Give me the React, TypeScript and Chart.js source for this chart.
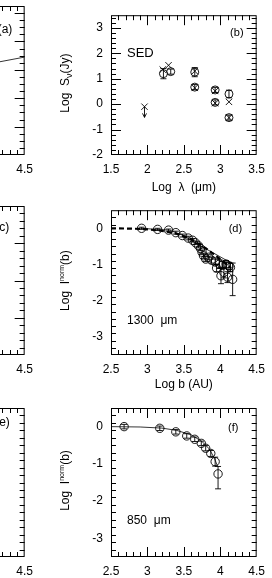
import React, { useEffect, useRef } from "react";
import { Chart, registerables } from "chart.js";
Chart.register(...registerables);

const FONT = "'Liberation Sans', Arial, Helvetica, sans-serif";

// ---------- Panel (b): SED ----------
const sedObsX = [2.22, 2.32, 2.65, 2.65, 2.93, 2.93, 3.12, 3.12];
const sedObsY = [1.2, 1.28, 1.26, 0.67, 0.56, 0.07, 0.4, -0.53];
const sedObsErr = [0.2, 0.1, 0.18, 0.1, 0.1, 0.1, 0.15, 0.1];
const sedModX = [2.21, 2.29, 2.65, 2.65, 2.93, 2.93, 3.12, 3.12];
const sedModY = [1.36, 1.53, 1.3, 0.64, 0.52, 0.04, 0.09, -0.53];
const sedLimX = [1.96];
const sedLimY = [-0.1];
const sedLimTo = [-0.52];

// ---------- Panel (d): 1300 um profile ----------
const b1300X = [2.92, 3.14, 3.29, 3.39, 3.48, 3.56, 3.62, 3.66, 3.7, 3.73, 3.75, 3.77, 3.8, 3.84, 3.88, 3.93, 3.99, 4.03, 4.08, 4.12, 4.14, 3.95, 4.01, 4.05, 4.1, 4.17];
const b1300Y = [0.0, -0.03, -0.05, -0.12, -0.2, -0.27, -0.33, -0.4, -0.48, -0.56, -0.66, -0.76, -0.85, -0.8, -0.88, -0.93, -0.99, -1.02, -0.99, -1.04, -1.08, -1.1, -1.31, -1.22, -1.35, -1.41];
const b1300Err = [0.03, 0.03, 0.03, 0.04, 0.04, 0.05, 0.05, 0.05, 0.06, 0.06, 0.06, 0.07, 0.07, 0.07, 0.08, 0.08, 0.12, 0.1, 0.1, 0.1, 0.12, 0.1, 0.22, 0.15, 0.15, 0.45];
const m1300X = [2.5, 2.8, 3.0, 3.2, 3.4, 3.6, 3.8, 4.0, 4.15];
const m1300Y = [0.0, -0.01, -0.03, -0.07, -0.15, -0.3, -0.55, -0.85, -1.1];
const t1300X = [2.9, 3.3, 3.5, 3.62, 4.17];
const t1300Y = [0.0, -0.05, -0.2, -0.36, -0.98];

// ---------- Panel (f): 850 um profile ----------
const b850X = [2.68, 3.17, 3.39, 3.54, 3.65, 3.74, 3.8, 3.87, 3.93, 3.97];
const b850Y = [0.0, -0.045, -0.14, -0.25, -0.34, -0.45, -0.58, -0.72, -0.94, -1.27];
const b850ErrLo = [0.06, 0.06, 0.06, 0.06, 0.06, 0.06, 0.07, 0.08, 0.12, 0.4];
const b850ErrHi = [0.06, 0.06, 0.06, 0.06, 0.06, 0.06, 0.07, 0.08, 0.12, 0.2];
const m850X = [2.5, 2.9, 3.2, 3.4, 3.6, 3.75, 3.85, 3.92, 3.96];
const m850Y = [0.0, -0.01, -0.04, -0.1, -0.22, -0.4, -0.6, -0.85, -1.05];

// ---------- Panel (a): partly visible model line ----------
const aLineX = [3.6, 4.5];
const aLineY = [3.0, 3.45];

// ---------- Tick values ----------
const sedXTicks = [1.5, 2, 2.5, 3, 3.5];
const sedYTicks = [-2, -1, 0, 1, 2, 3];
const bXTicks = [2.5, 3, 3.5, 4, 4.5];
const iYTicks = [-3, -2, -1, 0];
const aYTicks = [1, 2, 3, 4, 5];
const cYTicks = [-3, -2, -1, 0, 1];

type TPart = { t: string; size: number; dy: number };
type Txt = { text: string; x: number; y: number; size: number; align: CanvasTextAlign };
type PanelCfg = {
  left: number; top: number; width: number; height: number;
  pad: { left: number; right: number; top: number; bottom: number };
  yW: number; xH: number;
  x: [number, number]; y: [number, number];
  xTicks: number[]; yTicks: number[];
  xMinor: number; yMinor: number;
  xTitle?: string; yTitle?: TPart[];
  showY: boolean;
  datasets: any[];
  texts: Txt[];
};

const pts = (xs: number[], ys: number[]) => xs.map((x, i) => ({ x, y: ys[i] }));
const circleDs = (xs: number[], ys: number[], lo: number[], hi: number[], r = 4) => ({
  data: pts(xs, ys), pointStyle: "circle", pointRadius: r, pointBorderWidth: 0.9,
  borderColor: "#000", pointBorderColor: "#000", backgroundColor: "rgba(0,0,0,0)",
  pointBackgroundColor: "rgba(0,0,0,0)", errLo: lo, errHi: hi,
});
const crossDs = (xs: number[], ys: number[], r = 5, arrowTo?: number[]) => ({
  data: pts(xs, ys), pointStyle: "crossRot", pointRadius: r, pointBorderWidth: 0.9,
  borderColor: "#000", pointBorderColor: "#000", arrowTo,
});
const lineDs = (xs: number[], ys: number[], w: number, dash: number[] = []) => ({
  data: pts(xs, ys), showLine: true, pointRadius: 0, borderColor: "#000",
  borderWidth: w, borderDash: dash, fill: false,
});

function drawRotTitle(ctx: CanvasRenderingContext2D, parts: TPart[], x: number, cy: number) {
  ctx.save();
  ctx.translate(x, cy);
  ctx.rotate(-Math.PI / 2);
  let total = 0;
  const widths = parts.map((p) => {
    ctx.font = `${p.size}px ${FONT}`;
    const w = ctx.measureText(p.t).width;
    total += w;
    return w;
  });
  let cx = -total / 2;
  ctx.textBaseline = "alphabetic";
  ctx.textAlign = "left";
  ctx.fillStyle = "#000";
  parts.forEach((p, i) => {
    ctx.font = `${p.size}px ${FONT}`;
    ctx.fillText(p.t, cx, p.dy);
    cx += widths[i];
  });
  ctx.restore();
}

function Panel({ cfg }: { cfg: PanelCfg }) {
  const ref = useRef<HTMLCanvasElement>(null);
  useEffect(() => {
    const canvas = ref.current!;
    const frame = {
      id: "frame",
      afterDatasetsDraw(chart: any) {
        const { ctx, chartArea: a, scales } = chart;
        const xs = scales.x, ys = scales.y;
        ctx.save();
        ctx.beginPath();
        ctx.rect(a.left, a.top, a.right - a.left, a.bottom - a.top);
        ctx.clip();
        ctx.strokeStyle = "#000";
        ctx.lineWidth = 0.9;
        chart.data.datasets.forEach((ds: any) => {
          if (ds.errLo) {
            ds.data.forEach((p: any, i: number) => {
              const px = xs.getPixelForValue(p.x);
              const y1 = ys.getPixelForValue(p.y - ds.errLo[i]);
              const y2 = ys.getPixelForValue(p.y + ds.errHi[i]);
              ctx.beginPath();
              ctx.moveTo(px, y1); ctx.lineTo(px, y2);
              ctx.moveTo(px - 3, y1); ctx.lineTo(px + 3, y1);
              ctx.moveTo(px - 3, y2); ctx.lineTo(px + 3, y2);
              ctx.stroke();
            });
          }
          if (ds.arrowTo) {
            ds.data.forEach((p: any, i: number) => {
              const px = xs.getPixelForValue(p.x);
              const y1 = ys.getPixelForValue(p.y);
              const y2 = ys.getPixelForValue(ds.arrowTo[i]);
              ctx.beginPath();
              ctx.moveTo(px, y1); ctx.lineTo(px, y2);
              ctx.moveTo(px - 2, y2 - 4); ctx.lineTo(px, y2); ctx.lineTo(px + 2, y2 - 4);
              ctx.stroke();
            });
          }
        });
        ctx.restore();
      },
      afterDraw(chart: any) {
        const { ctx, chartArea: a, scales } = chart;
        const xs = scales.x, ys = scales.y;
        ctx.save();
        ctx.strokeStyle = "#000";
        ctx.lineWidth = 1;
        ctx.strokeRect(a.left + 0.5, a.top + 0.5, a.right - a.left - 1, a.bottom - a.top - 1);
        ctx.beginPath();
        const nx = Math.round((cfg.x[1] - cfg.x[0]) / cfg.xMinor);
        for (let i = 1; i < nx; i++) {
          const v = cfg.x[0] + i * cfg.xMinor;
          const major = cfg.xTicks.some((t) => Math.abs(t - v) < 1e-6);
          const len = major ? 10 : 5;
          const px = Math.round(xs.getPixelForValue(v)) + 0.5;
          ctx.moveTo(px, a.bottom); ctx.lineTo(px, a.bottom - len);
          ctx.moveTo(px, a.top); ctx.lineTo(px, a.top + len);
        }
        const ny = Math.round((cfg.y[1] - cfg.y[0]) / cfg.yMinor);
        for (let i = 1; i < ny; i++) {
          const v = cfg.y[0] + i * cfg.yMinor;
          const major = cfg.yTicks.some((t) => Math.abs(t - v) < 1e-6);
          const len = major ? 10 : 5;
          const py = Math.round(ys.getPixelForValue(v)) + 0.5;
          ctx.moveTo(a.left, py); ctx.lineTo(a.left + len, py);
          ctx.moveTo(a.right, py); ctx.lineTo(a.right - len, py);
        }
        ctx.stroke();
        ctx.fillStyle = "#000";
        cfg.texts.forEach((t) => {
          ctx.font = `${t.size}px ${FONT}`;
          ctx.textAlign = t.align;
          ctx.textBaseline = "middle";
          ctx.fillText(t.text, xs.getPixelForValue(t.x), ys.getPixelForValue(t.y));
        });
        if (cfg.yTitle) drawRotTitle(ctx, cfg.yTitle, 68.5, (a.top + a.bottom) / 2 - 2);
        ctx.restore();
      },
    };
    const tickFont = { family: FONT, size: 12 };
    const chart = new Chart(canvas, {
      type: "scatter",
      data: { datasets: cfg.datasets },
      options: {
        animation: false,
        responsive: false,
        devicePixelRatio: 1,
        events: [],
        layout: { padding: cfg.pad },
        plugins: { legend: { display: false }, tooltip: { enabled: false } },
        scales: {
          x: {
            type: "linear", min: cfg.x[0], max: cfg.x[1],
            grid: { display: false, drawTicks: false }, border: { display: false },
            ticks: { autoSkip: false, maxRotation: 0, padding: 7, font: tickFont, color: "#000", callback: (v: any) => String(v) },
            afterBuildTicks: (s: any) => { s.ticks = cfg.xTicks.map((v) => ({ value: v })); },
            afterFit: (s: any) => { s.height = cfg.xH; },
            title: cfg.xTitle
              ? { display: true, text: cfg.xTitle, font: { family: FONT, size: 12 }, color: "#000", padding: 0 }
              : { display: false },
          },
          y: {
            type: "linear", min: cfg.y[0], max: cfg.y[1], display: cfg.showY,
            grid: { display: false, drawTicks: false }, border: { display: false },
            ticks: { autoSkip: false, padding: 8, font: tickFont, color: "#000", callback: (v: any) => String(v) },
            afterBuildTicks: (s: any) => { s.ticks = cfg.yTicks.map((v) => ({ value: v })); },
            afterFit: (s: any) => { if (cfg.showY) s.width = cfg.yW; },
          },
        },
      } as any,
      plugins: [frame as any],
    });
    return () => chart.destroy();
  }, []);
  return (
    <canvas
      ref={ref}
      width={cfg.width}
      height={cfg.height}
      style={{ position: "absolute", left: cfg.left, top: cfg.top, width: cfg.width, height: cfg.height }}
    />
  );
}

const normTitle: TPart[] = [
  { t: "Log  I", size: 12, dy: 0 },
  { t: "norm", size: 7, dy: -5 },
  { t: "(b)", size: 12, dy: 0 },
];

const panels: PanelCfg[] = [
  {
    left: 0, top: 0, width: 272, height: 195,
    pad: { left: 0, right: 9, top: 6, bottom: 0 }, yW: 111, xH: 40,
    x: [1.5, 3.5], y: [-2, 3.5], xTicks: sedXTicks, yTicks: sedYTicks, xMinor: 0.1, yMinor: 0.2,
    xTitle: "Log  λ  (μm)",
    yTitle: [{ t: "Log  S", size: 12, dy: 0 }, { t: "ν", size: 9, dy: 3 }, { t: "(Jy)", size: 12, dy: 0 }],
    showY: true,
    datasets: [
      circleDs(sedObsX, sedObsY, sedObsErr, sedObsErr, 4),
      crossDs(sedModX, sedModY, 4.5),
      crossDs(sedLimX, sedLimY, 4.5, sedLimTo),
    ],
    texts: [
      { text: "SED", x: 1.72, y: 1.99, size: 13, align: "left" },
      { text: "(b)", x: 3.32, y: 2.8, size: 11, align: "right" },
    ],
  },
  {
    left: 0, top: 195, width: 272, height: 197,
    pad: { left: 0, right: 9, top: 11, bottom: 0 }, yW: 111, xH: 37,
    x: [2.5, 4.5], y: [-3.5, 0.5], xTicks: bXTicks, yTicks: iYTicks, xMinor: 0.1, yMinor: 0.2,
    xTitle: "Log b (AU)", yTitle: normTitle, showY: true,
    datasets: [
      lineDs(m1300X, m1300Y, 2.2, [5, 3]),
      lineDs(t1300X, t1300Y, 0.8),
      circleDs(b1300X, b1300Y, b1300Err, b1300Err, 4.2),
    ],
    texts: [
      { text: "1300  μm", x: 2.72, y: -2.56, size: 12, align: "left" },
      { text: "(d)", x: 4.3, y: -0.01, size: 11, align: "right" },
    ],
  },
  {
    left: 0, top: 392, width: 272, height: 186,
    pad: { left: 0, right: 9, top: 16, bottom: 0 }, yW: 111, xH: 21,
    x: [2.5, 4.5], y: [-3.5, 0.5], xTicks: bXTicks, yTicks: iYTicks, xMinor: 0.1, yMinor: 0.2,
    yTitle: normTitle, showY: true,
    datasets: [
      lineDs(m850X, m850Y, 0.8),
      circleDs(b850X, b850Y, b850ErrLo, b850ErrHi, 4.2),
    ],
    texts: [
      { text: "850  μm", x: 2.72, y: -2.53, size: 12, align: "left" },
      { text: "(f)", x: 4.25, y: -0.04, size: 11, align: "right" },
    ],
  },
  {
    left: -150, top: 0, width: 190, height: 195,
    pad: { left: 24, right: 14, top: 6, bottom: 0 }, yW: 0, xH: 40,
    x: [2.5, 4.5], y: [0, 5.25], xTicks: bXTicks, yTicks: aYTicks, xMinor: 0.1, yMinor: 0.25,
    showY: false,
    datasets: [lineDs(aLineX, aLineY, 0.8)],
    texts: [{ text: "(a)", x: 4.336, y: 4.4, size: 12, align: "right" }],
  },
  {
    left: -150, top: 195, width: 190, height: 197,
    pad: { left: 24, right: 14, top: 11, bottom: 0 }, yW: 0, xH: 37,
    x: [2.5, 4.5], y: [-3, 1], xTicks: bXTicks, yTicks: cYTicks, xMinor: 0.1, yMinor: 0.2,
    showY: false,
    datasets: [],
    texts: [{ text: "(c)", x: 4.296, y: 0.41, size: 12, align: "right" }],
  },
  {
    left: -150, top: 392, width: 190, height: 186,
    pad: { left: 24, right: 14, top: 16, bottom: 0 }, yW: 0, xH: 21,
    x: [2.5, 4.5], y: [-3.5, 0.5], xTicks: bXTicks, yTicks: iYTicks, xMinor: 0.1, yMinor: 0.2,
    showY: false,
    datasets: [],
    texts: [{ text: "(e)", x: 4.303, y: 0.1, size: 12, align: "right" }],
  },
];

export default function App() {
  return (
    <div style={{ position: "absolute", left: 0, top: 0, width: 272, height: 578, overflow: "hidden", background: "#fff" }}>
      {panels.map((p, i) => (
        <Panel key={i} cfg={p} />
      ))}
    </div>
  );
}
